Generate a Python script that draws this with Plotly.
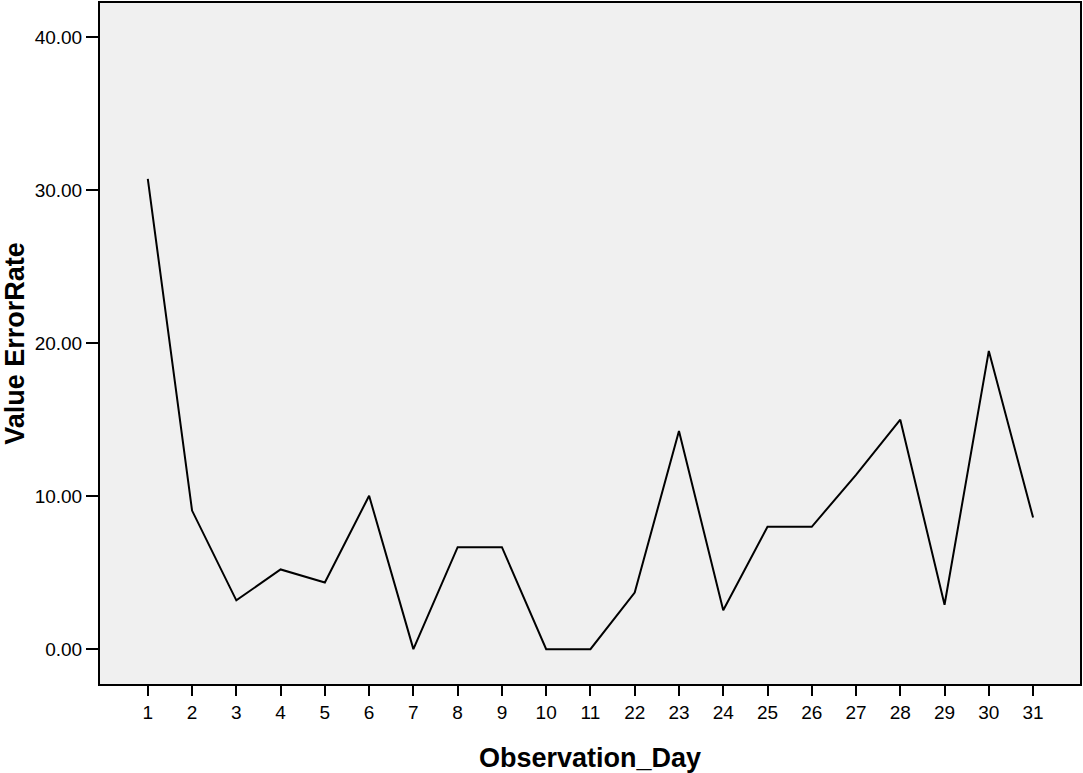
import plotly.graph_objects as go

days = ["1", "2", "3", "4", "5", "6", "7", "8", "9", "10", "11",
        "22", "23", "24", "25", "26", "27", "28", "29", "30", "31"]
error_rate = [30.75, 9.06, 3.19, 5.21, 4.36, 10.03, 0.0, 6.67, 6.67, 0.0, 0.0,
              3.70, 14.27, 2.54, 8.0, 8.0, 11.4, 15.0, 2.9, 19.5, 8.6]

fig = go.Figure()
fig.add_trace(go.Scatter(x=days, y=error_rate, mode="lines",
                         line=dict(color="black", width=2), hoverinfo="skip"))

font_family = "Liberation Sans, Arial, sans-serif"
fig.update_layout(
    width=1083, height=773,
    margin=dict(l=100, r=1, t=1, b=89),
    paper_bgcolor="white", plot_bgcolor="#f0f0f0",
    showlegend=False,
    font=dict(family=font_family, color="black", size=16),
    xaxis=dict(
        type="category", range=[-1.08, 21.06],
        showgrid=False, zeroline=False,
        showline=True, linecolor="black", linewidth=2, mirror=True,
        ticks="outside", ticklen=10, tickwidth=2, tickcolor="black",
        tickfont=dict(size=19, family=font_family),
        title=dict(text="<b>Observation_Day</b>", font=dict(size=27, family=font_family), standoff=28),
    ),
    yaxis=dict(
        range=[-2.28, 42.25],
        tickvals=[0, 10, 20, 30, 40], ticktext=["0.00", "10.00", "20.00", "30.00", "40.00"],
        showgrid=False, zeroline=False,
        showline=True, linecolor="black", linewidth=2, mirror=True,
        ticks="outside", ticklen=12, tickwidth=2, tickcolor="black",
        tickfont=dict(size=19, family=font_family),
        title=dict(text="<b>Value ErrorRate</b>", font=dict(size=27, family=font_family), standoff=10),
    ),
)
fig.write_html("out.html")
